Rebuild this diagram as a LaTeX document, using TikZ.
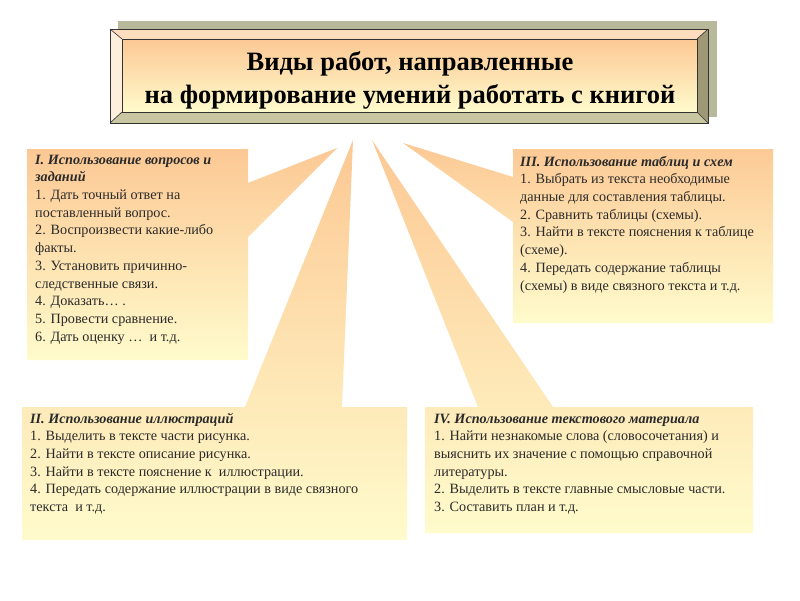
\documentclass[tikz,border=0pt]{standalone}
\usepackage{fontspec}
\setmainfont{Liberation Serif}
\definecolor{peach}{HTML}{FCC894}
\definecolor{lyellow}{HTML}{FFFBCC}
\definecolor{shadowc}{HTML}{B8B89A}
\definecolor{topface}{HTML}{FDDDBE}
\definecolor{leftface}{HTML}{FEEEDC}
\definecolor{botface}{HTML}{C9C6A2}
\definecolor{rightface}{HTML}{9E9876}
\definecolor{txtc}{HTML}{2A2A2A}
\tikzset{
  callout/.style={top color=peach, bottom color=lyellow, draw=none},
  bodytext/.style={font=\fontsize{14.2}{17.7}\selectfont, text=txtc, align=left, inner sep=0pt, anchor=north west},
  titletext/.style={font=\fontsize{26.5}{33}\selectfont\bfseries, text=black, align=center, inner sep=0pt},
  bevelline/.style={draw=black!80, line width=0.6pt, line join=miter}
}
\begin{document}
\begin{tikzpicture}[x=1pt,y=-1pt]
\useasboundingbox[fill=white] (0,0) rectangle (800,600);

% title box with bevel
\fill[shadowc] (118,21) rectangle (717,117);
\coordinate (o1) at (110,29);
\coordinate (o2) at (708,29);
\coordinate (o3) at (708,123);
\coordinate (o4) at (110,123);
\coordinate (i1) at (122,39);
\coordinate (i2) at (697,39);
\coordinate (i3) at (697,112);
\coordinate (i4) at (122,112);
\fill[topface] (o1) -- (o2) -- (i2) -- (i1) -- cycle;
\fill[leftface] (o1) -- (i1) -- (i4) -- (o4) -- cycle;
\fill[rightface] (o2) -- (o3) -- (i3) -- (i2) -- cycle;
\fill[botface] (o4) -- (i4) -- (i3) -- (o3) -- cycle;
\shade[top color=peach, bottom color=lyellow] (i1) rectangle (i3);
\draw[bevelline] (o1) rectangle (o3);
\draw[bevelline] (i1) rectangle (i3);
\draw[bevelline] (o1) -- (i1) (o2) -- (i2) (o3) -- (i3) (o4) -- (i4);
\node[titletext] (title) at (410,80) {Виды работ, направленные\\на формирование умений работать с книгой};

% callouts
\coordinate (t1) at (337,148);
\coordinate (t2) at (353,140);
\coordinate (t3) at (403,143);
\coordinate (t4) at (372,140);
\shade[callout] (27,149) -- (248,149) -- (248,183) -- (t1) -- (248,237) -- (248,360) -- (27,360) -- cycle;
\shade[callout] (22,407) -- (245,407) -- (t2) -- (342,407) -- (407,407) -- (407,540) -- (22,540) -- cycle;
\shade[callout] (513,149) -- (513,177) -- (t3) -- (513,222) -- (513,323) -- (773,323) -- (773,149) -- cycle;
\shade[callout] (425,407) -- (478,407) -- (t4) -- (553,407) -- (753,407) -- (753,533) -- (425,533) -- cycle;

% texts
\node[bodytext] (b1) at (35,164-12.4) {\strut\textbf{\textit{I. Использование вопросов и}}\\
\textbf{\textit{заданий}}\\
1. Дать точный ответ на\\
поставленный вопрос.\\
2. Воспроизвести какие-либо\\
факты.\\
3. Установить причинно-\\
следственные связи.\\
4. Доказать… .\\
5. Провести сравнение.\\
6. Дать оценку …\ \ и т.д.};

\node[bodytext] (b3) at (520,166-12.4) {\strut\textbf{\textit{III. Использование таблиц и схем}}\\
1. Выбрать из текста необходимые\\
данные для составления таблицы.\\
2. Сравнить таблицы (схемы).\\
3. Найти в тексте пояснения к таблице\\
(схеме).\\
4. Передать содержание таблицы\\
(схемы) в виде связного текста и т.д.};

\node[bodytext] (b2) at (30,423-12.4) {\strut\textbf{\textit{II. Использование иллюстраций}}\\
1. Выделить в тексте части рисунка.\\
2. Найти в тексте описание рисунка.\\
3. Найти в тексте пояснение к\ \ иллюстрации.\\
4. Передать содержание иллюстрации в виде связного\\
текста\ \ и т.д.};

\node[bodytext] (b4) at (434,423-12.4) {\strut\textbf{\textit{IV. Использование текстового материала}}\\
1. Найти незнакомые слова (словосочетания) и\\
выяснить их значение с помощью справочной\\
литературы.\\
2. Выделить в тексте главные смысловые части.\\
3. Составить план и т.д.};
\end{tikzpicture}
\end{document}
